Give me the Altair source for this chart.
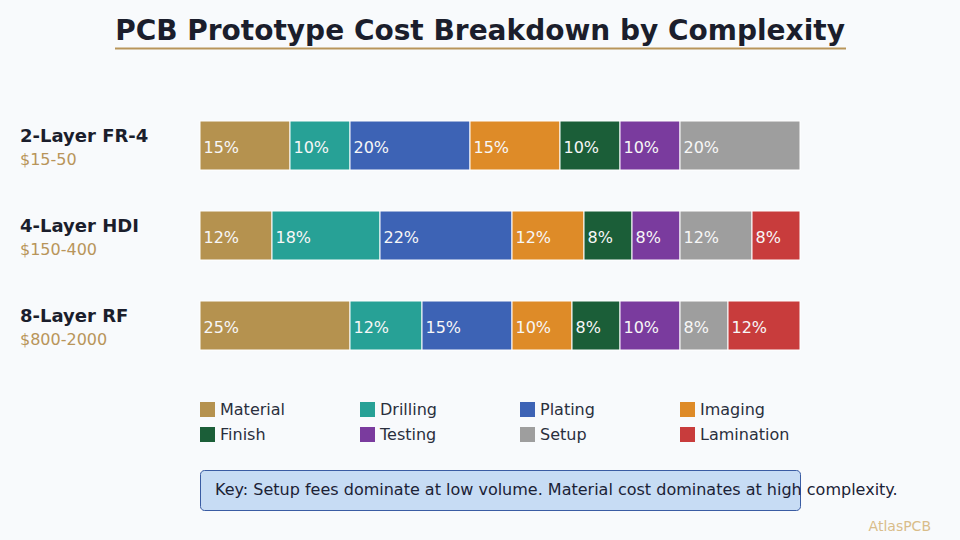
import altair as alt
import pandas as pd

FONT = "DejaVu Sans"

# --- data -------------------------------------------------------------
rows = ["2-Layer FR-4", "4-Layer HDI", "8-Layer RF"]
prices = ["$15-50", "$150-400", "$800-2000"]
components = ["Material", "Drilling", "Plating", "Imaging",
              "Finish", "Testing", "Setup", "Lamination"]
palette = ["#b5924f", "#27a196", "#3d63b5", "#de8b28",
           "#1b5e38", "#7a3b9e", "#9e9e9e", "#c83c3c"]

# share of total cost (%) per component, in component order
fr4_shares = [15, 10, 20, 15, 10, 10, 20, 0]
hdi_shares = [12, 18, 22, 12, 8, 8, 12, 8]
rf_shares = [25, 12, 15, 10, 8, 10, 8, 12]

title_text = "PCB Prototype Cost Breakdown by Complexity"
key_text = "Key: Setup fees dominate at low volume. Material cost dominates at high complexity."
brand = "AtlasPCB"

# --- tables -------------------------------------------------------------
seg_records = []
for row, shares in zip(rows, [fr4_shares, hdi_shares, rf_shares]):
    for i, (comp, share) in enumerate(zip(components, shares)):
        if share > 0:
            seg_records.append({"row": row, "component": comp, "order": i, "share": share})
seg_df = pd.DataFrame(seg_records)

names_df = pd.DataFrame({"row": rows, "price": prices})

legend_df = pd.DataFrame({
    "component": components,
    "col": [i % 4 for i in range(len(components))],
    "lrow": [i // 4 for i in range(len(components))],
})

# --- scales -------------------------------------------------------------
x_scale = alt.Scale(domain=[0, 100], range=[200, 800], nice=False, zero=False)
y_scale = alt.Scale(type="point", domain=rows, range=[145.5, 325.5], padding=0)
color_scale = alt.Scale(domain=components, range=palette)

leg_sq_x = alt.Scale(domain=[0, 3], range=[207.5, 687.5], nice=False, zero=False)
leg_tx_x = alt.Scale(domain=[0, 3], range=[220, 700], nice=False, zero=False)
leg_y = alt.Scale(domain=[0, 1], range=[409.5, 434.5], nice=False, zero=False)

# --- stacked bars ---------------------------------------------------------
base = alt.Chart(seg_df).transform_stack(
    stack="share", groupby=["row"], as_=["x0", "x1"],
    sort=[alt.SortField("order", order="ascending")],
)

bars = base.mark_bar(height=49, stroke="white", strokeWidth=1).encode(
    x=alt.X("x0:Q", scale=x_scale, axis=None),
    x2="x1:Q",
    y=alt.Y("row:N", scale=y_scale, axis=None),
    color=alt.Color("component:N", scale=color_scale, legend=None),
)

pct = base.transform_calculate(label="datum.share + '%'").mark_text(
    align="left", baseline="alphabetic", dx=3.5, dy=7.5,
    color="#f7f7f7", fontSize=16, font=FONT,
).encode(
    x=alt.X("x0:Q", scale=x_scale, axis=None),
    y=alt.Y("row:N", scale=y_scale, axis=None),
    text="label:N",
)

# --- row labels -----------------------------------------------------------
names = alt.Chart(names_df).mark_text(
    align="left", baseline="alphabetic", dy=-3.5,
    fontSize=18, fontWeight="bold", font=FONT, color="#1b1e2c",
).encode(
    x=alt.value(20),
    y=alt.Y("row:N", scale=y_scale, axis=None),
    text="row:N",
)

price_lbl = alt.Chart(names_df).mark_text(
    align="left", baseline="alphabetic", dy=19.5,
    fontSize=16, font=FONT, color="#b8955a",
).encode(
    x=alt.value(20),
    y=alt.Y("row:N", scale=y_scale, axis=None),
    text="price:N",
)

# --- legend ---------------------------------------------------------------
leg_sq = alt.Chart(legend_df).mark_square(size=225, opacity=1).encode(
    x=alt.X("col:Q", scale=leg_sq_x, axis=None),
    y=alt.Y("lrow:Q", scale=leg_y, axis=None),
    color=alt.Color("component:N", scale=color_scale, legend=None),
)

leg_tx = alt.Chart(legend_df).mark_text(
    align="left", baseline="middle", fontSize=16, font=FONT, color="#2a2f3d",
).encode(
    x=alt.X("col:Q", scale=leg_tx_x, axis=None),
    y=alt.Y("lrow:Q", scale=leg_y, axis=None),
    text="component:N",
)

# --- title, key box, brand -------------------------------------------------
one = pd.DataFrame({"t": [title_text]})

title = alt.Chart(one).mark_text(
    align="center", baseline="alphabetic", fontSize=28, fontWeight="bold",
    font=FONT, color="#1b1e2c",
).encode(x=alt.value(480), y=alt.value(40), text="t:N")

underline = alt.Chart(one).mark_rule(color="#b8955a", strokeWidth=2).encode(
    x=alt.value(115), x2=alt.value(846), y=alt.value(48.5)
)

key_box = alt.Chart(one).mark_rect(
    fill="#c7dcf4", stroke="#3a5ca3", strokeWidth=1, cornerRadius=4,
).encode(x=alt.value(200.5), x2=alt.value(800.5), y=alt.value(470.5), y2=alt.value(510.5))

key = alt.Chart(pd.DataFrame({"t": [key_text]})).mark_text(
    align="left", baseline="alphabetic", fontSize=16, font=FONT, color="#1b2236",
).encode(x=alt.value(215), y=alt.value(495), text="t:N")

mark_brand = alt.Chart(pd.DataFrame({"t": [brand]})).mark_text(
    align="right", baseline="alphabetic", fontSize=14, font=FONT, color="#d9bd8a",
).encode(x=alt.value(931), y=alt.value(531), text="t:N")

chart = alt.layer(
    title, underline, bars, pct, names, price_lbl, leg_sq, leg_tx, key_box, key, mark_brand
).resolve_scale(
    x="independent", y="independent", color="independent"
).properties(
    width=960, height=540, padding=0, background="#f8fafc",
    autosize=alt.AutoSizeParams(type="none"),
).configure_view(stroke=None)

chart.save("out.html", embed_options={"renderer": "svg", "actions": False})
